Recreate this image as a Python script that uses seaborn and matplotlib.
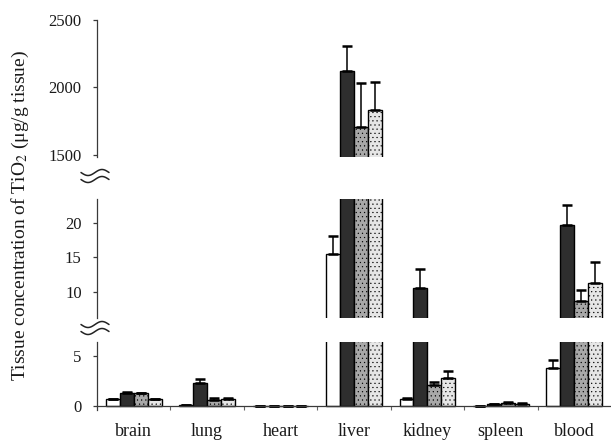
import numpy as np
import pandas as pd
import matplotlib
matplotlib.use("Agg")
import matplotlib.pyplot as plt
import seaborn as sns
from matplotlib.lines import Line2D

# ---------------- data ----------------
organs = ["brain", "lung", "heart", "liver", "kidney", "spleen", "blood"]
groups = ["control", "25 nm", "80 nm", "155 nm"]

control = [0.7, 0.1, 0.05, 15.5, 0.7, 0.05, 3.8]
control_err = [0.0, 0.0, 0.0, 2.6, 0.1, 0.0, 0.8]
g25 = [1.35, 2.3, 0.05, 2120, 10.6, 0.2, 19.6]
g25_err = [0.05, 0.4, 0.0, 190, 2.7, 0.02, 3.0]
g80 = [1.3, 0.6, 0.05, 1705, 2.1, 0.35, 8.8]
g80_err = [0.05, 0.25, 0.0, 325, 0.3, 0.03, 1.5]
g155 = [0.7, 0.7, 0.05, 1830, 2.8, 0.25, 11.3]
g155_err = [0.05, 0.1, 0.0, 210, 0.7, 0.03, 3.1]

values = [control, g25, g80, g155]
errors = [control_err, g25_err, g80_err, g155_err]
colors = ["#ffffff", "#2e2e2e", "#a8a8a8", "#e6e6e6"]
hatches = ["", "", "....", "...."]

rows = []
for g, vals in zip(groups, values):
    for o, v in zip(organs, vals):
        rows.append({"organ": o, "group": g, "value": v})
df = pd.DataFrame(rows)

# ---------------- style ----------------
sns.set_theme(style="ticks")
plt.rcParams["font.family"] = ["Liberation Serif", "DejaVu Serif"]
plt.rcParams["mathtext.fontset"] = "stix"
plt.rcParams["hatch.linewidth"] = 0.35

W, H = 611, 441
fig = plt.figure(figsize=(W / 100, H / 100), dpi=100)


def ax_rect(top_px, bot_px, left_px=97, right_px=611):
    return [left_px / W, 1 - bot_px / H, (right_px - left_px) / W, (bot_px - top_px) / H]


ax_top = fig.add_axes(ax_rect(20, 157))
ax_mid = fig.add_axes(ax_rect(199, 318))
ax_bot = fig.add_axes(ax_rect(342, 410))

panels = [
    (ax_top, (1485, 2500), [1500, 2000, 2500]),
    (ax_mid, (6.3, 23.4), [10, 15, 20]),
    (ax_bot, (-0.4, 6.4), [0, 5]),
]

spine_col = "#3a3a3a"
for ax, ylim, yt in panels:
    sns.barplot(data=df, x="organ", y="value", hue="group", order=organs,
                hue_order=groups, palette=colors, saturation=1, width=0.76,
                edgecolor="black", linewidth=1.0, errorbar=None, legend=False,
                ax=ax)
    for cont, errs, hatch in zip(ax.containers, errors, hatches):
        for p in cont.patches:
            p.set_hatch(hatch)
        xs = [p.get_x() + p.get_width() / 2 for p in cont.patches]
        ys = [p.get_height() for p in cont.patches]
        ax.errorbar(xs, ys, yerr=[np.zeros(len(errs)), errs], fmt="none",
                    ecolor="black", elinewidth=1.1, capsize=3.6, capthick=1.8,
                    zorder=1)
    ax.set_xlim(-0.5, 6.5)
    ax.set_ylim(*ylim)
    ax.set_yticks(yt)
    ax.set_xlabel("")
    ax.set_ylabel("")
    ax.patch.set_alpha(0)
    for s in ["top", "right"]:
        ax.spines[s].set_visible(False)
    ax.spines["left"].set_color(spine_col)
    ax.spines["left"].set_linewidth(0.9)
    ax.tick_params(axis="y", direction="out", length=3, width=0.9,
                   color=spine_col, pad=8, labelsize=12, labelcolor="#1a1a1a")

for ax in (ax_top, ax_mid):
    ax.spines["bottom"].set_visible(False)
    ax.tick_params(axis="x", bottom=False, labelbottom=False)

ax_bot.spines["bottom"].set_position(("data", 0))
ax_bot.spines["bottom"].set_color(spine_col)
ax_bot.spines["bottom"].set_linewidth(0.9)
ax_bot.set_xticks(np.arange(len(organs)))
ax_bot.set_xticklabels(organs)
ax_bot.set_xticks(np.arange(len(organs) - 1) + 0.5, minor=True)
ax_bot.tick_params(axis="x", which="major", length=0, pad=12, labelsize=13,
                   labelcolor="#1a1a1a")
ax_bot.tick_params(axis="x", which="minor", length=3, width=0.8,
                   color="#666666", direction="out")

# y label
fig.text(20 / W, 1 - 215 / H,
         "Tissue concentration of TiO$_2$ (\u03bcg/g tissue)",
         rotation=90, ha="center", va="center", fontsize=14, color="#1a1a1a")

# axis-break marks (decoration)
t = np.linspace(0, 1, 60)
for y0 in (176, 328):
    for dy in (-3.5, 3.5):
        xs = 81 + 28 * t
        ys = y0 + dy + 3.0 * np.sin(2 * np.pi * t)
        fig.add_artist(Line2D(xs / W, 1 - ys / H, color="#222222", lw=1.1,
                              transform=fig.transFigure))

fig.savefig("out.png", dpi=100)
